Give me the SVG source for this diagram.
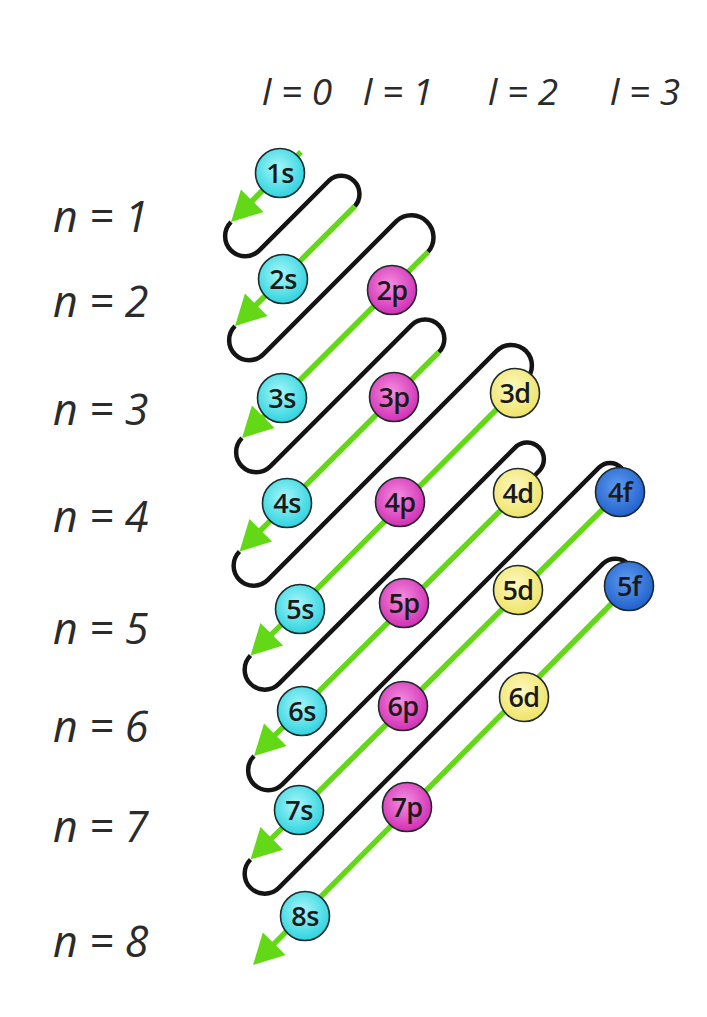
<svg xmlns="http://www.w3.org/2000/svg" width="707" height="1017" viewBox="0 0 707 1017">
<style>
.lbl{font-family:"Open Sans","Liberation Sans",sans-serif;font-style:italic;fill:#2b2b2b}
.hdr{font-size:37px}
.nl{font-size:43px}
.node circle{stroke:#1d2b2b;stroke-width:1.6}
.node text{font-family:"Open Sans","Liberation Sans",sans-serif;font-size:27px;font-weight:600;fill:#1a1a1a;text-anchor:middle;letter-spacing:-0.5px}
.s circle{fill:url(#gs)}
.p circle{fill:url(#gp)}
.d circle{fill:url(#gd)}
.f circle{fill:url(#gf)}
.green{fill:none;stroke:#62d816;stroke-width:5.5;marker-end:url(#arr)}
.black{fill:none;stroke:#141414;stroke-width:4.5;stroke-linejoin:round}
</style>
<defs>
<radialGradient id="gs" cx="45%" cy="40%" r="60%"><stop offset="0" stop-color="#a8f7fa"/><stop offset="1" stop-color="#2fd3df"/></radialGradient>
<radialGradient id="gp" cx="45%" cy="40%" r="60%"><stop offset="0" stop-color="#f58fe0"/><stop offset="1" stop-color="#d12fb4"/></radialGradient>
<radialGradient id="gd" cx="45%" cy="40%" r="60%"><stop offset="0" stop-color="#fdf9c4"/><stop offset="1" stop-color="#efe366"/></radialGradient>
<radialGradient id="gf" cx="45%" cy="40%" r="60%"><stop offset="0" stop-color="#5f9cf0"/><stop offset="1" stop-color="#2261cc"/></radialGradient>
<marker id="arr" markerUnits="userSpaceOnUse" viewBox="-22 -17 34 34" refX="0" refY="0" markerWidth="34" markerHeight="34" orient="auto">
<path d="M10,0 L-20,-16 L-20,16 Z" fill="#62d816"/>
</marker>
</defs>
<rect width="707" height="1017" fill="#ffffff"/>
<g id="headers" class="lbl hdr">
<text x="262" y="105">l = 0</text>
<text x="363" y="105">l = 1</text>
<text x="488" y="105">l = 2</text>
<text x="610" y="105">l = 3</text>
</g>
<g id="n-labels" class="lbl nl">
<text x="53" y="232">n = 1</text>
<text x="53" y="317">n = 2</text>
<text x="53" y="425">n = 3</text>
<text x="53" y="532">n = 4</text>
<text x="53" y="644">n = 5</text>
<text x="53" y="742">n = 6</text>
<text x="53" y="842">n = 7</text>
<text x="53" y="957">n = 8</text>
</g>
<g id="connectors">
<path class="black" d="M231,222 A20,20 0 0 0 259.3,250.3 L329.1,180.5 A18.2,18.2 0 0 1 354.8,206.2
M235,326 A20,20 0 0 0 263.3,354.3 L396.7,220.9 A22.1,22.1 0 0 1 427.9,252.1
M242,438 A20,20 0 0 0 270.3,466.3 L411.55,325.05 A19.2,19.2 0 0 1 438.75,352.25
M239.5,551.5 A20,20 0 0 0 267.8,579.8 L496.65,350.95 A20.6,20.6 0 0 1 525.85,380.15 L515,393
M250.5,655.5 A20,20 0 0 0 278.8,683.8 L516.05,446.55 A16.8,16.8 0 0 1 539.75,470.25 L518,493
M254,756 A20,20 0 0 0 282.3,784.3 L599.15,467.45 A15.3,15.3 0 0 1 620.85,489.15 L620,492
M250.5,859.5 A20,20 0 0 0 278.8,887.8 L603.25,563.35 A18.2,18.2 0 0 1 628.95,589.05 L629,586"/>
<path class="green" d="M301,152 L238.1,214.9"/>
<path class="green" d="M354.8,206.2 L242.1,318.9"/>
<path class="green" d="M427.9,252.1 L249.1,430.9"/>
<path class="green" d="M438.75,352.25 L246.6,544.4"/>
<path class="green" d="M525.85,380.15 L257.6,648.4"/>
<path class="green" d="M518,493 L261.1,748.9"/>
<path class="green" d="M620,492 L257.6,852.4"/>
<path class="green" d="M629,586 L260.1,957.9"/>
</g>
<g id="n1s" class="node s"><circle cx="280" cy="173" r="24.5"/><text x="280" y="183">1s</text></g>
<g id="n2s" class="node s"><circle cx="283" cy="279" r="24.5"/><text x="283" y="289">2s</text></g>
<g id="n2p" class="node p"><circle cx="392" cy="290" r="24.5"/><text x="392" y="300">2p</text></g>
<g id="n3s" class="node s"><circle cx="282" cy="398" r="24.5"/><text x="282" y="408">3s</text></g>
<g id="n3p" class="node p"><circle cx="394" cy="397" r="24.5"/><text x="394" y="407">3p</text></g>
<g id="n3d" class="node d"><circle cx="515" cy="393" r="24.5"/><text x="515" y="403">3d</text></g>
<g id="n4s" class="node s"><circle cx="287" cy="503" r="24.5"/><text x="287" y="513">4s</text></g>
<g id="n4p" class="node p"><circle cx="400" cy="502" r="24.5"/><text x="400" y="512">4p</text></g>
<g id="n4d" class="node d"><circle cx="518" cy="493" r="24.5"/><text x="518" y="503">4d</text></g>
<g id="n4f" class="node f"><circle cx="620" cy="492" r="24.5"/><text x="620" y="502">4f</text></g>
<g id="n5s" class="node s"><circle cx="300" cy="609" r="24.5"/><text x="300" y="619">5s</text></g>
<g id="n5p" class="node p"><circle cx="404" cy="603" r="24.5"/><text x="404" y="613">5p</text></g>
<g id="n5d" class="node d"><circle cx="518" cy="590" r="24.5"/><text x="518" y="600">5d</text></g>
<g id="n5f" class="node f"><circle cx="629" cy="586" r="24.5"/><text x="629" y="596">5f</text></g>
<g id="n6s" class="node s"><circle cx="302" cy="711" r="24.5"/><text x="302" y="721">6s</text></g>
<g id="n6p" class="node p"><circle cx="403" cy="706" r="24.5"/><text x="403" y="716">6p</text></g>
<g id="n6d" class="node d"><circle cx="524" cy="697" r="24.5"/><text x="524" y="707">6d</text></g>
<g id="n7s" class="node s"><circle cx="299" cy="810" r="24.5"/><text x="299" y="820">7s</text></g>
<g id="n7p" class="node p"><circle cx="407" cy="807" r="24.5"/><text x="407" y="817">7p</text></g>
<g id="n8s" class="node s"><circle cx="305" cy="916" r="24.5"/><text x="305" y="926">8s</text></g>
</svg>
